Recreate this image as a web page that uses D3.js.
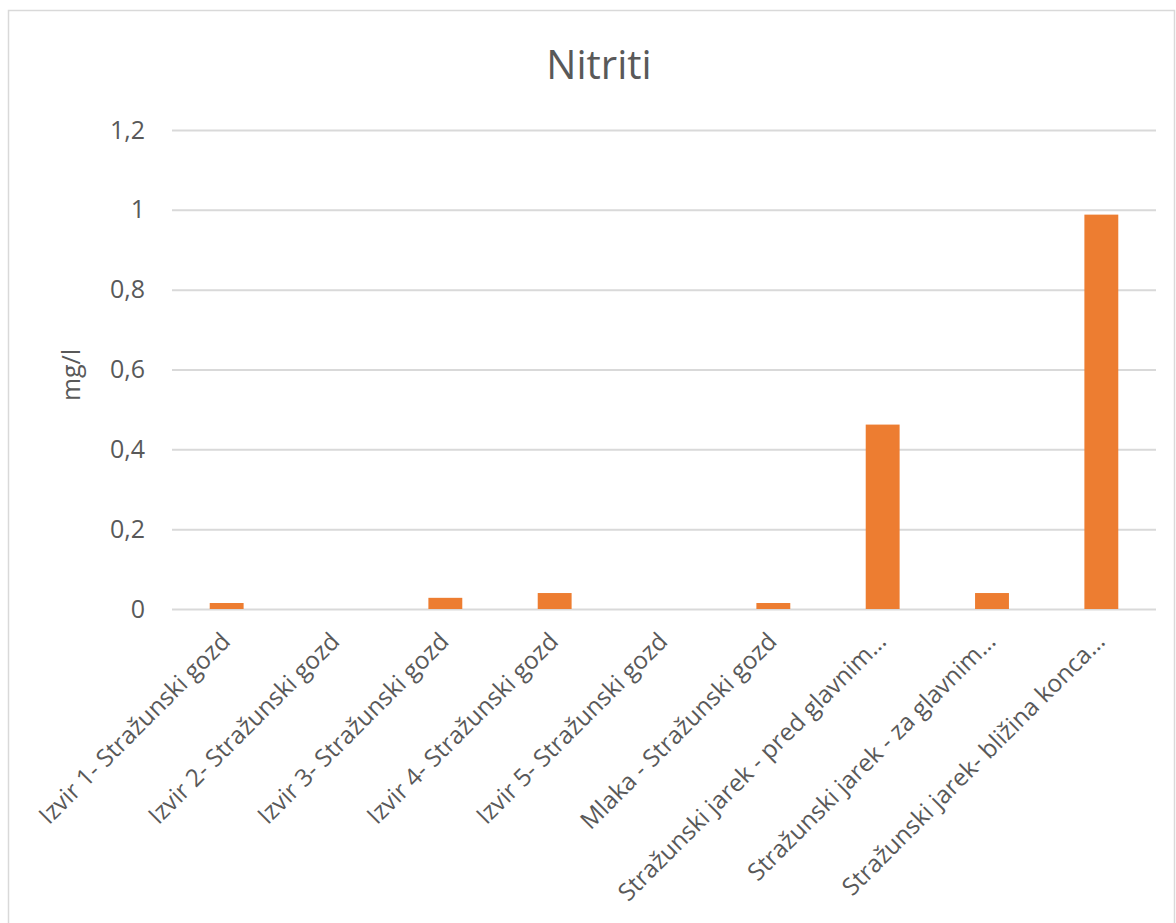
<!DOCTYPE html>
<html>
<head>
<meta charset="utf-8">
<script src="https://cdn.jsdelivr.net/npm/d3@7"></script>
<style>
  html, body { margin: 0; padding: 0; background: #fff; }
  svg { display: block; }
  text { font-family: "Open Sans", sans-serif; fill: #595959; }
</style>
</head>
<body>
<svg id="chart" width="1176" height="923"></svg>
<script>
// Nitrite concentration per sampling site (mg/l)
const categories = [
  "Izvir 1- Stražunski gozd",
  "Izvir 2- Stražunski gozd",
  "Izvir 3- Stražunski gozd",
  "Izvir 4- Stražunski gozd",
  "Izvir 5- Stražunski gozd",
  "Mlaka - Stražunski gozd",
  "Stražunski jarek - pred glavnim…",
  "Stražunski jarek - za glavnim…",
  "Stražunski jarek- bližina konca…"
];
const values = [0.015, 0, 0.028, 0.04, 0, 0.015, 0.462, 0.04, 0.988];
const yTicks = [0, 0.2, 0.4, 0.6, 0.8, 1, 1.2];
const yTickLabels = ["0", "0,2", "0,4", "0,6", "0,8", "1", "1,2"];
const title = "Nitriti";
const yTitle = "mg/l";

const svg = d3.select("#chart");
const plot = { left: 172, right: 1156, top: 130, bottom: 609 };
const labelSize = 25;
const catSize = 24.3;

// chart frame
svg.append("rect")
  .attr("x", 8.5).attr("y", 10.5)
  .attr("width", 1166).attr("height", 930)
  .attr("fill", "#fff").attr("stroke", "#d9d9d9").attr("stroke-width", 1.5);

const x = d3.scaleBand().domain(categories).range([plot.left, plot.right])
  .paddingInner(0.69).paddingOuter(0.345);
const y = d3.scaleLinear().domain([0, 1.2]).range([plot.bottom, plot.top]);

// horizontal gridlines + value labels
const yAxis = d3.axisLeft(y).tickValues(yTicks)
  .tickFormat((d, i) => yTickLabels[i]).tickSize(-(plot.right - plot.left)).tickPadding(27);
const gy = svg.append("g").attr("transform", `translate(${plot.left},0)`).call(yAxis);
gy.select(".domain").remove();
gy.selectAll(".tick line").attr("stroke", "#d9d9d9").attr("stroke-width", 2);
gy.selectAll(".tick text").attr("font-size", labelSize).attr("fill", "#595959")
  .style("font-family", '"Open Sans", sans-serif');

// bars
svg.append("g").selectAll("rect").data(values).join("rect")
  .attr("x", (d, i) => x(categories[i]))
  .attr("width", x.bandwidth())
  .attr("y", d => y(d))
  .attr("height", d => y(0) - y(d))
  .attr("fill", "#ED7D31");

// category labels (rotated)
const xAxis = d3.axisBottom(x).tickSize(0).tickPadding(0);
const gx = svg.append("g").attr("transform", `translate(0,${plot.bottom})`).call(xAxis);
gx.select(".domain").remove();
gx.selectAll(".tick text")
  .attr("font-size", catSize).attr("fill", "#595959")
  .style("font-family", '"Open Sans", sans-serif')
  .attr("text-anchor", "end")
  .attr("dy", null)
  .attr("y", 0)
  .attr("transform", "translate(5,34) rotate(-45)");

// title
svg.append("text").attr("x", 599).attr("y", 79)
  .attr("text-anchor", "middle").attr("font-size", 40).text(title);

// y-axis title
svg.append("text")
  .attr("transform", `translate(80,375) rotate(-90)`)
  .attr("text-anchor", "middle").attr("font-size", labelSize).text(yTitle);
</script>
</body>
</html>
